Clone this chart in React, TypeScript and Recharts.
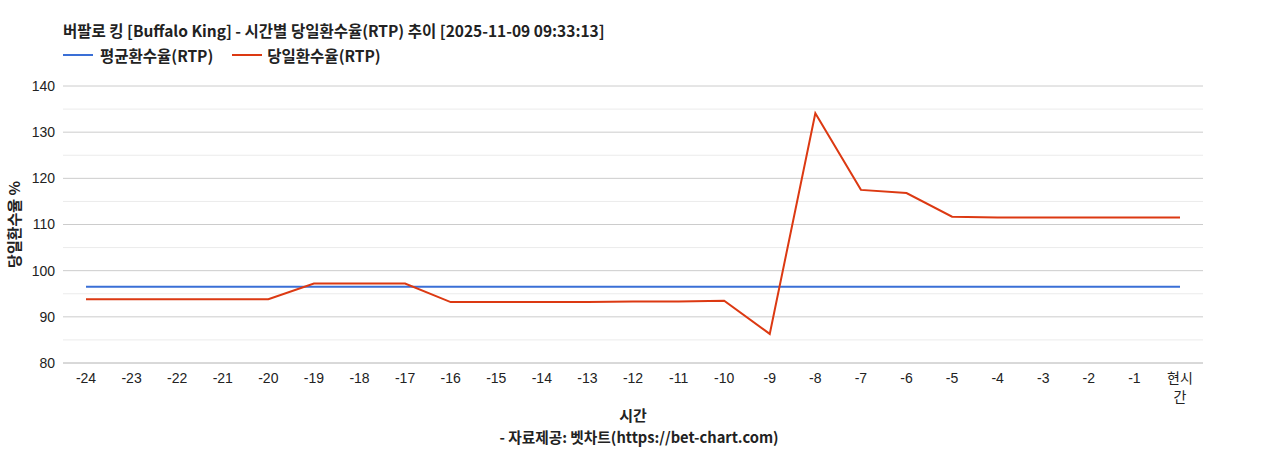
import React from 'react';
import { LineChart, Line, XAxis, YAxis, CartesianGrid, ReferenceLine } from 'recharts';

const hours = ['-24','-23','-22','-21','-20','-19','-18','-17','-16','-15','-14','-13','-12','-11','-10','-9','-8','-7','-6','-5','-4','-3','-2','-1','현시간'];
const avgRtp = [96.5,96.5,96.5,96.5,96.5,96.5,96.5,96.5,96.5,96.5,96.5,96.5,96.5,96.5,96.5,96.5,96.5,96.5,96.5,96.5,96.5,96.5,96.5,96.5,96.5];
const dailyRtp = [93.8,93.8,93.8,93.8,93.8,97.2,97.2,97.2,93.2,93.2,93.2,93.2,93.3,93.3,93.5,86.3,134.1,117.5,116.8,111.7,111.5,111.5,111.5,111.5,111.5];
const yTicks = [80,90,100,110,120,130,140];
const minorLines = [85,95,105,115,125,135];

const title = '버팔로 킹 [Buffalo King] - 시간별 당일환수율(RTP) 추이 [2025-11-09 09:33:13]';
const avgName = '평균환수율(RTP)';
const dailyName = '당일환수율(RTP)';
const yTitle = '당일환수율 %';
const xTitle = '시간';
const footer = '- 자료제공: 벳차트(https://bet-chart.com)';

const BLUE = '#3a6fd6';
const RED = '#dc3912';
const FONT = "Arial, 'Liberation Sans', 'Noto Sans CJK KR', sans-serif";
const KFONT = "'Noto Sans CJK KR', Arial, sans-serif";

const data = hours.map((h, i) => ({ hour: h, avg: avgRtp[i], daily: dailyRtp[i] }));

const XTick = (props: any) => {
  const { x, y, payload } = props;
  const v: string = payload.value;
  const lines = v === '현시간' ? ['현시', '간'] : [v];
  return (
    <g>
      {lines.map((l, i) => (
        <text key={i} x={x} y={y + 12 + i * 19} textAnchor="middle" fontSize={14} fill="#222" fontFamily={FONT}>
          {l}
        </text>
      ))}
    </g>
  );
};

export default function App() {
  return (
    <div style={{ position: 'absolute', left: 0, top: 0, width: 1268, height: 450, background: '#fff' }}>
      <div style={{ position: 'absolute', left: 63, top: 19, fontFamily: KFONT, fontSize: 15.5, fontWeight: 700, color: '#222', whiteSpace: 'nowrap', lineHeight: '22px' }}>
        {title}
      </div>
      <div style={{ position: 'absolute', left: 63, top: 44, display: 'flex', alignItems: 'center', fontFamily: KFONT, fontSize: 15.5, fontWeight: 700, color: '#222', lineHeight: '22px', whiteSpace: 'nowrap' }}>
        <span style={{ display: 'inline-block', width: 30, height: 2, background: BLUE, marginRight: 7 }} />
        <span style={{ marginRight: 19 }}>{avgName}</span>
        <span style={{ display: 'inline-block', width: 30, height: 2, background: RED, marginRight: 5 }} />
        <span>{dailyName}</span>
      </div>
      <LineChart width={1268} height={450} data={data} margin={{ top: 86, right: 65, bottom: 0, left: 0 }}>
        <CartesianGrid vertical={false} stroke="#cccccc" />
        {minorLines.map((v) => (
          <ReferenceLine key={v} y={v} stroke="#ebebeb" />
        ))}
        <XAxis
          dataKey="hour"
          height={87}
          axisLine={{ stroke: '#cccccc' }}
          tickLine={false}
          interval={0}
          padding={{ left: 23, right: 23 }}
          tick={<XTick />}
          label={{ value: xTitle, position: 'insideTop', offset: 47, style: { fontFamily: KFONT, fontSize: 15, fontWeight: 700, fill: '#222' } }}
        />
        <YAxis
          width={63}
          domain={[80, 140]}
          ticks={yTicks}
          axisLine={false}
          tickLine={false}
          tick={{ fontSize: 14, fill: '#222', fontFamily: FONT }}
          label={{ value: yTitle, angle: -90, position: 'insideLeft', offset: 15, style: { textAnchor: 'middle', fontFamily: KFONT, fontSize: 15, fontWeight: 700, fill: '#222' } }}
        />
        <Line type="linear" dataKey="avg" name={avgName} stroke={BLUE} strokeWidth={2} dot={false} isAnimationActive={false} />
        <Line type="linear" dataKey="daily" name={dailyName} stroke={RED} strokeWidth={2} dot={false} isAnimationActive={false} />
      </LineChart>
      <div style={{ position: 'absolute', left: 5, width: 1268, top: 426, textAlign: 'center', fontFamily: KFONT, fontSize: 14.7, fontWeight: 700, color: '#222', lineHeight: '22px' }}>
        {footer}
      </div>
    </div>
  );
}
